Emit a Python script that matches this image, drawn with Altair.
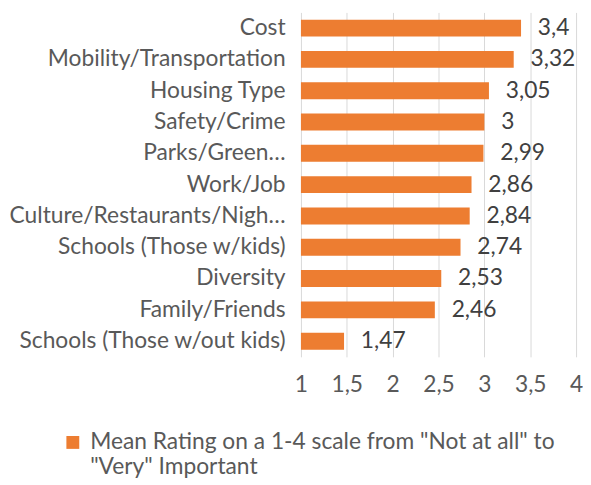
import altair as alt
import pandas as pd

categories = ["Cost", "Mobility/Transportation", "Housing Type", "Safety/Crime",
              "Parks/Green\u2026", "Work/Job", "Culture/Restaurants/Nigh\u2026",
              "Schools (Those w/kids)", "Diversity", "Family/Friends",
              "Schools (Those w/out kids)"]
values = [3.4, 3.32, 3.05, 3.0, 2.99, 2.86, 2.84, 2.74, 2.53, 2.46, 1.47]
ticks = [1, 1.5, 2, 2.5, 3, 3.5, 4]
series_name = "Mean Rating on a 1-4 scale from \"Not at all\" to \"Very\" Important"
legend_lines = ["Mean Rating on a 1-4 scale from \"Not at all\" to", "\"Very\" Important"]

df = pd.DataFrame({"category": categories, "value": values, "series": series_name})
df["label"] = [f"{v:g}".replace(".", ",") for v in values]

FONT = "Lato"
FS = 23
GREY = "#595959"
DARK = "#404040"
ORANGE = "#ED7D31"

legend_expr = "[" + ", ".join("'" + s.replace("'", "\\'") + "'" for s in legend_lines) + "]"

base = alt.Chart(df).encode(
    y=alt.Y("category:N", sort=categories, title=None,
            scale=alt.Scale(paddingInner=0.46, paddingOuter=0.23),
            axis=alt.Axis(ticks=False, domain=False, labelPadding=16,
                          labelFontSize=FS, labelColor=GREY, labelFont=FONT,
                          labelLimit=400)),
)

bars = base.mark_bar(color=ORANGE).encode(
    x=alt.X("value:Q", title=None,
            scale=alt.Scale(domain=[1, 4], zero=False, nice=False),
            axis=alt.Axis(values=ticks, ticks=False, domain=False,
                          labelExpr="replace(format(datum.value, ''), '.', ',')",
                          labelFontSize=FS, labelColor=GREY, labelFont=FONT,
                          labelPadding=17, gridColor="#D9D9D9", labelFlush=False)),
    x2=alt.datum(1),
    color=alt.Color("series:N", scale=alt.Scale(range=[ORANGE]),
                    legend=alt.Legend(title=None, orient="none", legendX=-242, legendY=423,
                                      padding=0, symbolType="square", symbolSize=169,
                                      symbolStrokeWidth=0, labelOffset=6,
                                      labelFontSize=FS, labelColor=GREY,
                                      labelFont=FONT, labelLimit=600,
                                      labelExpr=legend_expr)),
)

text = base.mark_text(align="left", dx=17, fontSize=FS, color=DARK, font=FONT).encode(
    x=alt.X("value:Q"),
    text="label:N",
)

chart = (bars + text).properties(
    width=278, height=348, padding={"left": 0, "top": 2, "right": 0, "bottom": 0},
).configure_view(stroke=None)

chart.save("out.html", embed_options={"renderer": "svg", "actions": False})
